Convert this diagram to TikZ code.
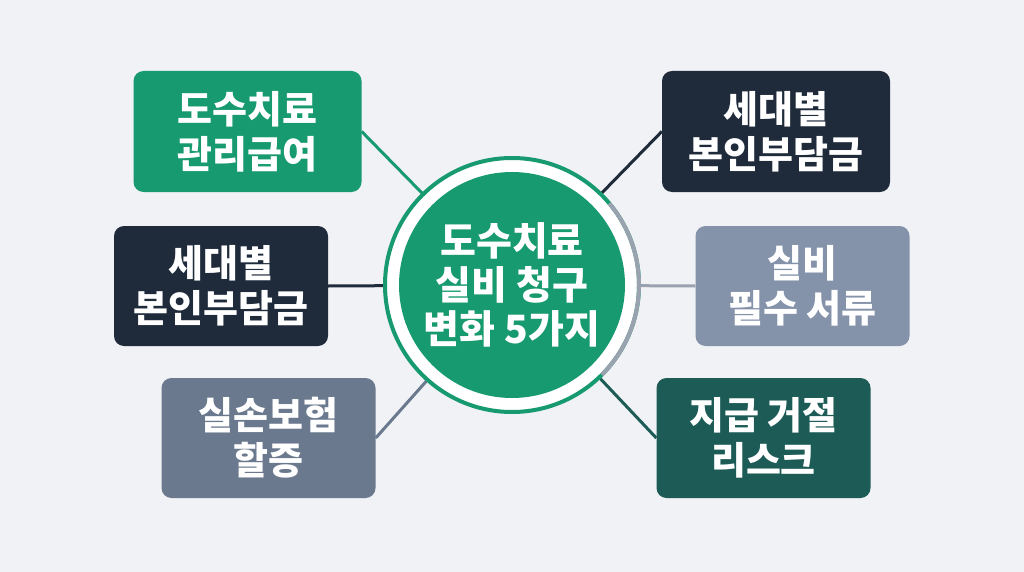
\documentclass[tikz,border=0pt]{standalone}
\usepackage{fontspec}
\newfontfamily\kr{Noto Sans CJK KR Black}
\usetikzlibrary{backgrounds}
\definecolor{bg}{HTML}{F0F2F5}
\definecolor{cgreen}{HTML}{179A6F}
\definecolor{cnavy}{HTML}{1F2B3B}
\definecolor{cslate}{HTML}{6B798F}
\definecolor{clight}{HTML}{8492AA}
\definecolor{cteal}{HTML}{1C5B56}
\definecolor{cring}{HTML}{9AA2B0}
\tikzset{
  box/.style={rounded corners=10pt, minimum width=214pt, minimum height=120pt,
    text=white, align=center, inner sep=0pt, font=\kr\fontsize{38}{45}\selectfont},
  conn/.style={line width=3pt},
}
\begin{document}
\begin{tikzpicture}[x=1pt,y=-1pt]
\useasboundingbox (0,0) rectangle (1024,572);

\node[box, fill=cgreen, minimum width=228pt, minimum height=121pt] (b1) at (247.5,131.5) {도수치료\\관리급여};
\node[box, fill=cnavy] (b2) at (221,286) {세대별\\본인부담금};
\node[box, fill=cslate] (b3) at (268.5,438) {실손보험\\할증};
\node[box, fill=cnavy, minimum width=228pt, minimum height=121pt] (b4) at (776,131.5) {세대별\\본인부담금};
\node[box, fill=clight] (b5) at (802.5,286) {실비\\필수 서류};
\node[box, fill=cteal] (b6) at (763.5,438) {지급 거절\\리스크};

\node[circle, fill=cgreen, minimum size=226pt, inner sep=0pt, text=white, align=center,
  font=\kr\fontsize{39}{44}\selectfont] (c) at (512,285) {도수치료\\실비 청구\\변화 5가지};

\begin{pgfonlayer}{background}
\fill[bg] (0,0) rectangle (1024,572);
\draw[conn, cgreen] (b1.east) -- (c.center);
\draw[conn, cnavy] (b2.east) -- (c.center);
\draw[conn, cslate] (b3.east) -- (c.center);
\draw[conn, cnavy] (b4.west) -- (c.center);
\draw[conn, cring] (b5.west) -- (c.center);
\draw[conn, cteal] (b6.west) -- (c.center);
\fill[white] (c.center) circle (127);
\draw[cgreen, line width=4pt] (c.center) circle (127);
\draw[cring, line width=4pt] (c.center) ++(45:127) arc[start angle=45, end angle=-40, radius=127];
\end{pgfonlayer}
\end{tikzpicture}
\end{document}
